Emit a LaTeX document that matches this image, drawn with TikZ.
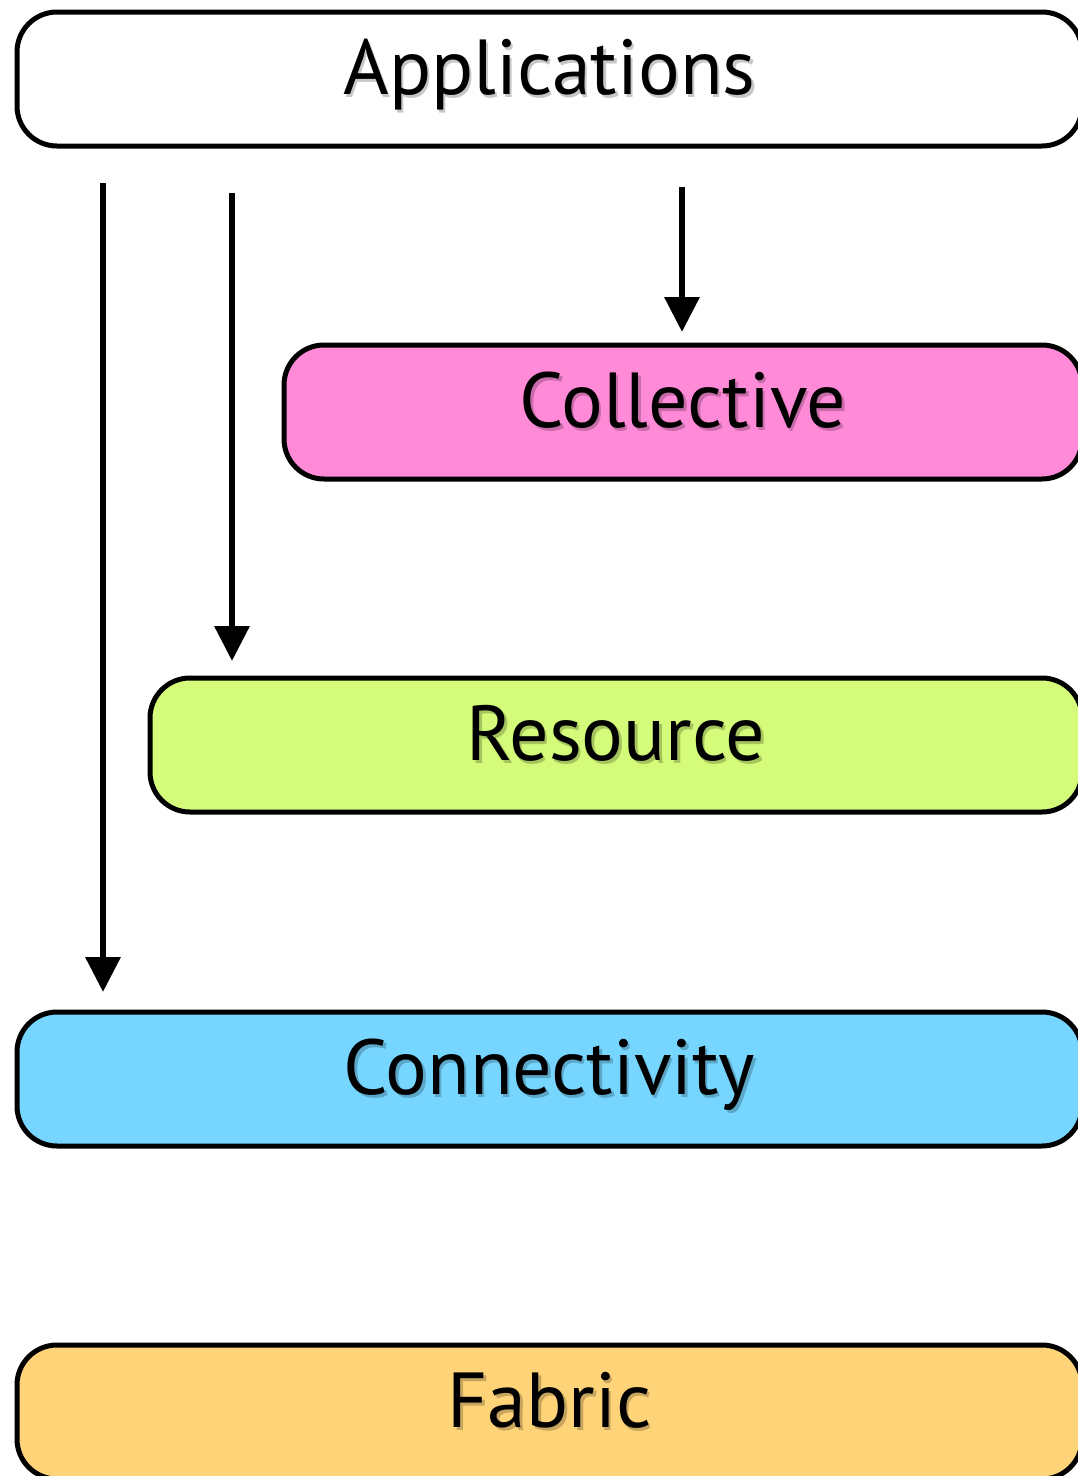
\documentclass[tikz,border=0pt]{standalone}
\usepackage{fontspec}
\setmainfont{PT Sans}
\usetikzlibrary{arrows.meta,calc}
\definecolor{appfill}{HTML}{FFFFFF}
\definecolor{colfill}{HTML}{FF8AD8}
\definecolor{resfill}{HTML}{D4FB79}
\definecolor{confill}{HTML}{76D6FF}
\definecolor{fabfill}{HTML}{FFD479}
\newcommand\shtxt[2]{\rlap{\kern2.5pt\raisebox{-3.5pt}{\color{#1!78!black}#2}}#2}
\tikzset{
  layerbox/.style={draw, line width=5pt, rounded corners=40pt, minimum height=134pt,
    inner sep=0pt, outer sep=0pt, anchor=north west,
    font=\fontsize{78}{86}\selectfont, text height=58pt, text depth=28pt},
  arr/.style={line width=6.5pt, -{Triangle[length=35pt,width=34pt]}}
}
\begin{document}
\begin{tikzpicture}[x=1pt,y=-1pt]
\useasboundingbox[fill=white] (0,0) rectangle (1077,1476);
\node[layerbox, fill=appfill, minimum width=1065pt] (app) at (17,12) {\shtxt{appfill}{Applications}};
\node[layerbox, fill=colfill, minimum width=798pt] (col) at (284,345) {\shtxt{colfill}{Collective}};
\node[layerbox, fill=resfill, minimum width=932pt] (res) at (150,678) {\shtxt{resfill}{Resource}};
\node[layerbox, fill=confill, minimum width=1065pt] (con) at (17,1012) {\shtxt{confill}{Connectivity}};
\node[layerbox, fill=fabfill, minimum width=1065pt] (fab) at (17,1345) {\shtxt{fabfill}{Fabric}};
\coordinate (a1) at (103,183);
\coordinate (a2) at (232,193);
\coordinate (a3) at (682,187);
\draw[arr, shorten >=20pt] (a1) -- (a1 |- con.north);
\draw[arr, shorten >=17pt] (a2) -- (a2 |- res.north);
\draw[arr, shorten >=13pt] (a3) -- (a3 |- col.north);
\end{tikzpicture}
\end{document}
